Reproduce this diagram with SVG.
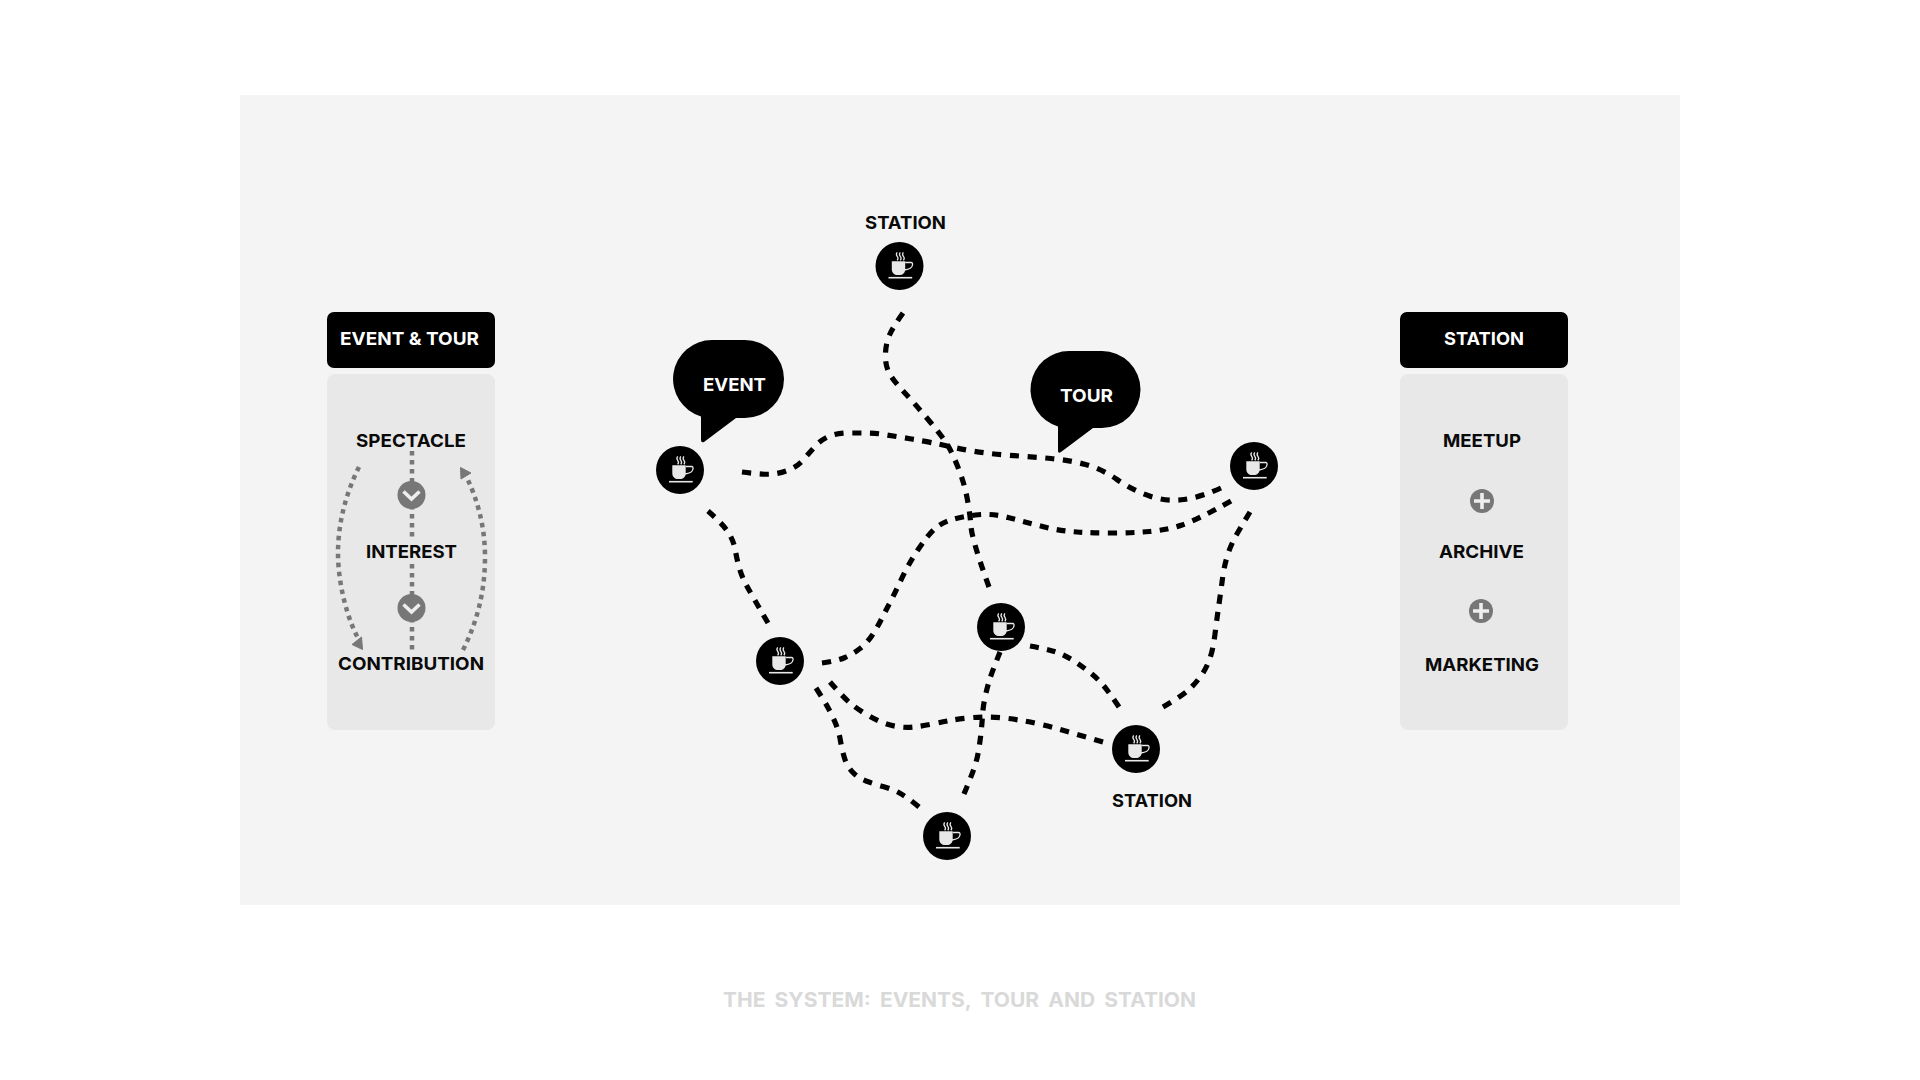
<svg xmlns="http://www.w3.org/2000/svg" xmlns:xlink="http://www.w3.org/1999/xlink" width="1920" height="1080" viewBox="0 0 1920 1080">
<style>
text{font-family:"Inter","Liberation Sans",sans-serif;font-weight:700;font-size:18px;fill:#0a0a0a}
.w{fill:#fff}
.cap{fill:#d9d9d9;font-size:20px}
.panel{fill:#e8e8e8}
.head{fill:#000}
.route{fill:none;stroke:#000;stroke-width:5.2;stroke-dasharray:9 8.5}
.flow{fill:none;stroke:#777;stroke-width:4.5;stroke-dasharray:4.5 4.5}
.badge{fill:#777}
.mark{fill:none;stroke:#eee;stroke-width:3.6}
.arrow{fill:#777;stroke:#777;stroke-width:1;stroke-linejoin:round}
</style>
<defs>
<g id="cup">
<circle r="24" fill="#000"/>
<path d="M-7.700 -4.700H5.700V3C5.700 7 3 9 0 9H-2C-5 9 -7.700 7 -7.700 3Z" fill="#e8e8e8"/>
<path d="M5.700 -3.500H11.500C13 -3.500 13.200 -2.500 13 -1C12.500 2 9 3.500 5 4" fill="none" stroke="#e8e8e8" stroke-width="1.300"/>
<path d="M-11 11.700H12.700" stroke="#e8e8e8" stroke-width="1.600"/>
<path d="M-2.300 -13.700q-1.600 2 0 4t0 4M0.800 -13.700q-1.600 2 0 4t0 4M3.900 -13.700q-1.600 2 0 4t0 4" fill="none" stroke="#e8e8e8" stroke-width="1.300"/>
</g>
</defs>
<rect width="1920" height="1080" fill="#fff"/>
<rect x="240" y="95" width="1440" height="810" fill="#f4f4f4"/>

<g id="connectors">
<path class="route" pathLength="306.500" d="M903 313 Q893 327 889.500 335 Q886 343 885.500 353 Q885 363 888 370.500 Q891 378 903.500 391.500 Q916 405 928.500 420 Q941 435 946 442.500 Q951 450 957.500 466 Q964 482 967 497.500 Q970 513 971 526.500 Q972 540 989 587"/>
<path class="route" pathLength="499" d="M742 472 Q764 475 773 474 Q782 473 790 469.500 Q798 466 804 459 Q810 452 816 445.500 Q822 439 830 436 Q838 433 847.500 433 Q857 433 866 433 Q875 433 884 434.500 Q893 436 911.500 439 Q930 442 954.500 447.500 Q979 453 1006 455 Q1033 457 1051 458.500 Q1069 460 1085.500 464.500 Q1102 469 1117 479.500 Q1132 490 1149.500 496 Q1167 502 1184 499.500 Q1201 497 1221 488"/>
<path class="route" pathLength="499" d="M822 663 Q837 661 845 657.500 Q853 654 860 648.500 Q867 643 872 635.500 Q877 628 881 620 Q885 612 889 604.500 Q893 597 901 580 Q909 563 918.500 549 Q928 535 934.500 529 Q941 523 950.500 520 Q960 517 975.500 515 Q991 513 1008 517.500 Q1025 522 1042.500 526.500 Q1060 531 1077 532 Q1094 533 1113 533 Q1132 533 1149.500 531.500 Q1167 530 1182 525 Q1197 520 1231 501"/>
<path class="route" pathLength="131.500" d="M708 511 Q724 525 729 533.500 Q734 542 735.500 551 Q737 560 739.500 568.500 Q742 577 746 584.500 Q750 592 768 623"/>
<path class="route" pathLength="219" d="M1250 512 Q1239 530 1234.500 538.500 Q1230 547 1227 557 Q1224 567 1222.500 578.500 Q1221 590 1219 604 Q1217 618 1215 634 Q1213 650 1209.500 659.500 Q1206 669 1200.500 676.500 Q1195 684 1188.500 690 Q1182 696 1163 707"/>
<path class="route" pathLength="114" d="M1030 646 Q1052 650 1060 653.500 Q1068 657 1075.500 662 Q1083 667 1090 672.500 Q1097 678 1103 685 Q1109 692 1119 707"/>
<path class="route" pathLength="149" d="M1000 652 Q992 672 989.500 680 Q987 688 985 697.500 Q983 707 982.500 715.500 Q982 724 981 733 Q980 742 978.500 751 Q977 760 974 768.500 Q971 777 964 794"/>
<path class="route" pathLength="289" d="M830 682 Q843 697 849.500 702.500 Q856 708 864 713 Q872 718 880 721.500 Q888 725 897 726.500 Q906 728 914.500 727 Q923 726 932.500 724 Q942 722 950 720.500 Q958 719 967.500 718 Q977 717 986 717 Q995 717 1004 718 Q1013 719 1021.500 720.500 Q1030 722 1039 724 Q1048 726 1056.500 728.500 Q1065 731 1074 733.500 Q1083 736 1103 742"/>
<path class="route" pathLength="166.500" d="M816 688 Q825 702 829 709.500 Q833 717 836 724.500 Q839 732 840.500 741 Q842 750 844.500 758 Q847 766 852.500 772 Q858 778 866 781 Q874 784 883 786.500 Q892 789 899.500 793 Q907 797 919 807"/>
</g>

<g id="panel-event-tour">
<rect class="head" x="327" y="312" width="168" height="56" rx="7"/>
<text class="w" x="340" y="345" textLength="139" lengthAdjust="spacingAndGlyphs">EVENT &amp; TOUR</text>
<rect class="panel" x="327" y="374" width="168" height="356" rx="8"/>
<text x="356" y="447" textLength="110" lengthAdjust="spacingAndGlyphs">SPECTACLE</text>
<text x="366" y="558" textLength="91" lengthAdjust="spacingAndGlyphs">INTEREST</text>
<text x="338" y="670" textLength="146" lengthAdjust="spacingAndGlyphs">CONTRIBUTION</text>
<path class="flow" d="M412 451V538M412 564V652"/>
<path class="flow" d="M359 467C345 495 338 525 338 553C338 585 348 620 358 638"/>
<path class="arrow" d="M362.500 649.500L352 644.500L361.500 637Z"/>
<path class="flow" d="M463 650C478 620 485 590 485 557C485 525 477 500 468 480"/>
<path class="arrow" d="M460.500 467.500L471 473L461 479Z"/>
<circle class="badge" cx="411.500" cy="495" r="14"/>
<path class="mark" d="M403.500 491.500L411.500 499L419.500 491.500"/>
<circle class="badge" cx="411.500" cy="608" r="14"/>
<path class="mark" d="M403.500 604.500L411.500 612L419.500 604.500"/>
</g>

<g id="panel-station">
<rect class="head" x="1400" y="312" width="168" height="56" rx="7"/>
<text class="w" x="1444" y="345" textLength="80" lengthAdjust="spacingAndGlyphs">STATION</text>
<rect class="panel" x="1400" y="374" width="168" height="356" rx="8"/>
<text x="1443" y="447" textLength="78" lengthAdjust="spacingAndGlyphs">MEETUP</text>
<text x="1439" y="558" textLength="85" lengthAdjust="spacingAndGlyphs">ARCHIVE</text>
<text x="1425" y="671" textLength="114" lengthAdjust="spacingAndGlyphs">MARKETING</text>
<circle class="badge" cx="1482" cy="501" r="12"/>
<path class="mark" d="M1474 501H1490M1482 493V509"/>
<circle class="badge" cx="1481" cy="611" r="12"/>
<path class="mark" d="M1473 611H1489M1481 603V619"/>
</g>

<g id="bubble-event">
<path fill="#000" d="M712 340H745A39 39 0 0 1 745 418H736L704 442Q701 443 701 440V416.400A39 39 0 0 1 712 340Z"/>
<text class="w" x="703" y="391" textLength="63" lengthAdjust="spacingAndGlyphs">EVENT</text>
</g>
<g id="bubble-tour">
<path fill="#000" d="M1069 351H1102A38.500 38.500 0 0 1 1102 428H1093L1061 452Q1058 454 1058 451V426.400A38.500 38.500 0 0 1 1069 351Z"/>
<text class="w" x="1060" y="402" textLength="53" lengthAdjust="spacingAndGlyphs">TOUR</text>
</g>

<g id="node-event"><use href="#cup" x="680" y="470"/></g>
<g id="node-station-top"><use href="#cup" x="899.500" y="266"/>
<text x="865" y="229" textLength="81" lengthAdjust="spacingAndGlyphs">STATION</text></g>
<g id="node-right"><use href="#cup" x="1254" y="466"/></g>
<g id="node-left"><use href="#cup" x="780" y="661"/></g>
<g id="node-mid"><use href="#cup" x="1001" y="627"/></g>
<g id="node-station-bottom"><use href="#cup" x="1136" y="749"/>
<text x="1112" y="807" textLength="80" lengthAdjust="spacingAndGlyphs">STATION</text></g>
<g id="node-bottom"><use href="#cup" x="947" y="836"/></g>

<text class="cap" x="723" y="1007" textLength="473" lengthAdjust="spacingAndGlyphs" word-spacing="4">THE SYSTEM: EVENTS, TOUR AND STATION</text>
</svg>
